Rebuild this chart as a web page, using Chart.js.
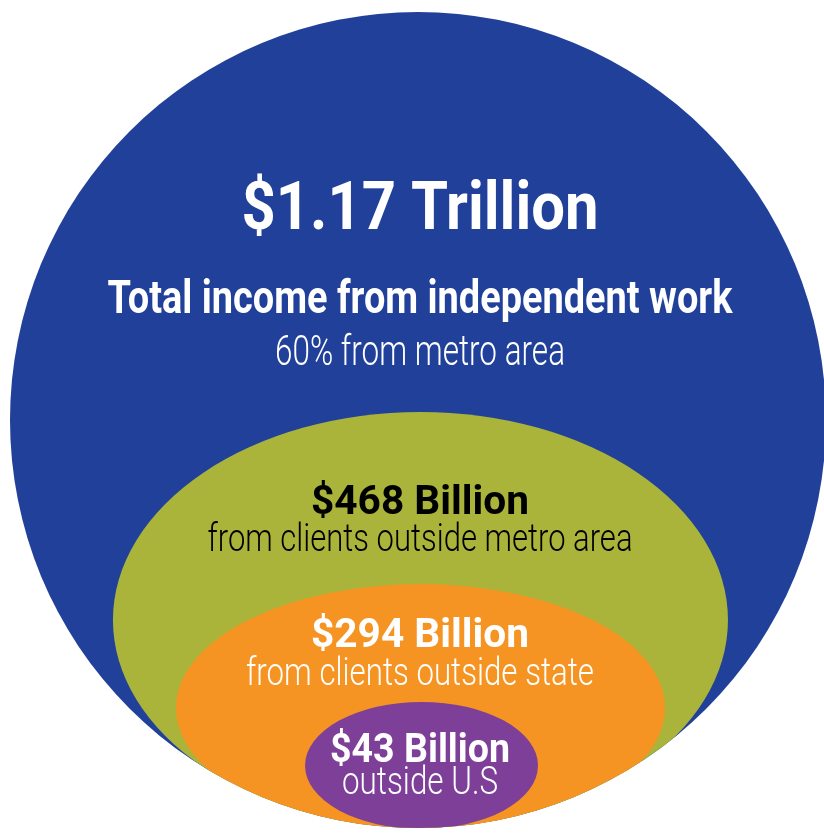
<!DOCTYPE html>
<html>
<head>
<meta charset="utf-8">
<title>Independent work income</title>
<script src="https://cdn.jsdelivr.net/npm/chart.js@4.4.1/dist/chart.umd.min.js"></script>
<style>
    html, body { margin: 0; padding: 0; background: #fff; overflow: hidden; }
    canvas { display: block; }
</style>
</head>
<body>
<canvas id="myChart" width="824" height="833"></canvas>
<script>
// #region data
// income in $ billions, outermost ring first
const categories = ['Total income from independent work', 'from clients outside metro area', 'from clients outside state', 'outside U.S'];
const amounts = [1170, 468, 294, 43];
const amountLabels = ['$1.17 Trillion', '$468 Billion', '$294 Billion', '$43 Billion'];
const notes = ['60% from metro area', '', '', ''];

// ellipse extents, in units of the outer circle's radius
const centersX = [0, 0.006, 0.006, 0.0086];
const centersY = [1, 0.5098, 0.2941, 0.1532];
const radiiX = [1, 0.7537, 0.5993, 0.2855];
const radiiY = [1, 0.5098, 0.3039, 0.1556];
// #endregion data

const colors = ['#21409a', '#aab43a', '#f59422', '#7e3f98'];
const textColors = ['#ffffff', '#000000', '#ffffff', '#ffffff'];

// text rows: [text, bold?, font px, baseline y, width, colour]
const rows = [
    [amountLabels[0], true, 66, 229, 357, textColors[0]],
    [categories[0], true, 46, 313, 625, textColors[0]],
    [notes[0], false, 42, 365, 290, textColors[0]],
    [amountLabels[1], true, 40, 514, 218, textColors[1]],
    [categories[1], false, 39, 551, 425, textColors[1]],
    [amountLabels[2], true, 40, 647, 218, textColors[2]],
    [categories[2], false, 39, 685, 348, textColors[2]],
    [amountLabels[3], true, 41, 762, 180, textColors[3]],
    [categories[3], false, 39, 794, 156, textColors[3]]
];

const graph = document.querySelector('#myChart');

function ellipsePath(ctx, chart, i) {
    const xs = chart.scales.x, ys = chart.scales.y;
    const px = xs.getPixelForValue(centersX[i]);
    const py = ys.getPixelForValue(centersY[i]);
    const rx = xs.getPixelForValue(centersX[i] + radiiX[i]) - px;
    const ry = py - ys.getPixelForValue(centersY[i] + radiiY[i]);
    ctx.beginPath();
    ctx.ellipse(px, py, rx, ry, 0, 0, Math.PI * 2);
}

const ellipsePlugin = {
    id: 'ellipses',
    beforeDatasetsDraw(chart) {
        const ctx = chart.ctx;
        ctx.save();
        ellipsePath(ctx, chart, 0);
        ctx.fillStyle = colors[0];
        ctx.fill();
        // inner rings stay inside the big circle
        ctx.clip();
        for (let i = 1; i < amounts.length; i++) {
            ellipsePath(ctx, chart, i);
            ctx.fillStyle = colors[i];
            ctx.fill();
        }
        ctx.restore();
    }
};

const labelPlugin = {
    id: 'labels',
    afterDatasetsDraw(chart) {
        const ctx = chart.ctx;
        const cx = 420;
        rows.forEach(([text, bold, size, base, width, color]) => {
            if (!text) return;
            ctx.save();
            ctx.font = (bold ? 'bold ' : '300 ') + size + 'px Roboto, "Liberation Sans", sans-serif';
            ctx.fillStyle = color;
            ctx.textAlign = 'center';
            ctx.textBaseline = 'alphabetic';
            // squeeze to the condensed width of the original
            const natural = ctx.measureText(text).width;
            ctx.translate(cx, base);
            ctx.scale(width / natural, 1);
            ctx.fillText(text, 0, 0);
            ctx.restore();
        });
    }
};

new Chart(graph.getContext('2d'), {
    type: 'scatter',
    data: {
        labels: categories,
        datasets: [{
            data: centersX.map((x, i) => ({ x: x, y: centersY[i] })),
            pointRadius: 0,
            pointHoverRadius: 0
        }]
    },
    options: {
        responsive: false,
        animation: false,
        events: [],
        layout: { padding: 0 },
        plugins: {
            legend: { display: false },
            tooltip: { enabled: false }
        },
        scales: {
            x: { type: 'linear', display: false, min: -418 / 408, max: 406 / 408 },
            y: { type: 'linear', display: false, min: -5 / 408, max: 828 / 408 }
        }
    },
    plugins: [ellipsePlugin, labelPlugin]
});
</script>
</body>
</html>
